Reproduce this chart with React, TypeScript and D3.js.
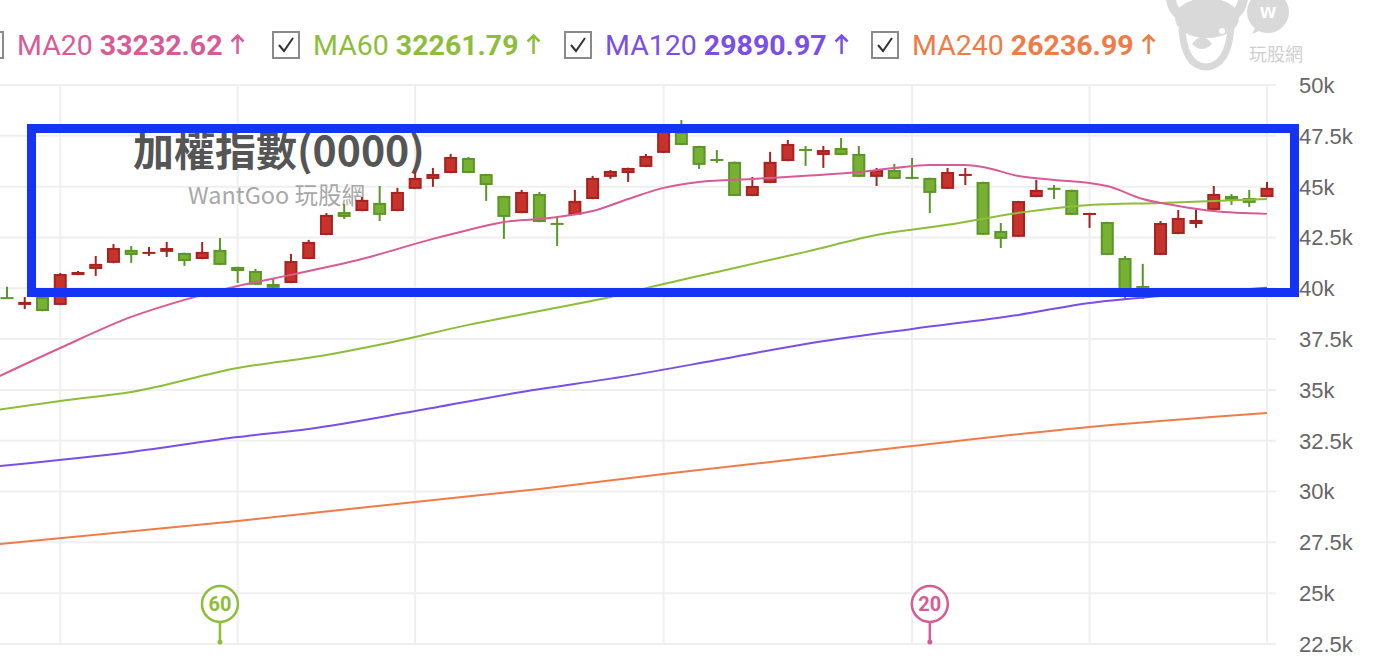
import * as d3 from 'd3';
import { useEffect, useRef } from 'react';

// daily candles, oldest first
const opens = [
  39540, 39180, 39570, 39180, 40650, 40950, 41250, 41890, 41690, 41790, 41740, 41440,
  41890, 41050, 40850, 40210, 40260, 41440, 42620, 43750, 43800, 44200, 43800, 44890,
  45380, 45670, 46410, 45620, 44540, 43700, 44640, 43210, 43610, 44390, 45480, 45670,
  45970, 46660, 47690, 47000, 46360, 46220, 44540, 45180, 46260, 46850, 46560, 46900,
  46610, 45480, 45820, 45480, 45430, 44890, 45530, 45230, 42820, 42530, 44490, 44940,
  44840, 43610, 43260, 41490, 40110, 41640, 42670, 43160, 43850, 44540, 44440, 44490,
];
const highs = [
  40070, 39570, 39620, 40750, 40850, 41590, 42180, 42080, 42030, 42280, 41750, 42280,
  42470, 41060, 40950, 40460, 41690, 42380, 43700, 44150, 44490, 45030, 44940, 45770,
  45920, 46610, 46460, 45630, 44550, 44840, 44740, 43460, 44840, 45530, 45820, 45930,
  46610, 47840, 48280, 47010, 46800, 46230, 45480, 46710, 47300, 47000, 47000, 47390,
  47000, 45920, 46120, 46410, 45440, 45920, 45920, 45240, 43210, 44300, 45330, 45080,
  44850, 43710, 43270, 41590, 41200, 43310, 43850, 43950, 45030, 44640, 44840, 45230,
];
const lows = [
  39470, 38980, 38870, 39170, 40640, 40610, 41230, 41250, 41590, 41540, 41100, 41430,
  41140, 40260, 40160, 39970, 40250, 41430, 42610, 43410, 43790, 43310, 43790, 44880,
  44990, 45660, 45660, 44300, 42430, 43690, 43250, 42080, 43600, 44380, 45380, 45230,
  45960, 46650, 47040, 45870, 46170, 44540, 44530, 45170, 46250, 46020, 45920, 46550,
  45470, 45030, 45370, 45370, 43700, 44880, 45080, 42620, 41980, 42520, 44480, 44390,
  43600, 42970, 41630, 39470, 39470, 41630, 42660, 42970, 43840, 44100, 44000, 44480,
];
const closes = [
  39490, 39330, 38880, 40700, 40800, 41200, 41980, 41640, 41790, 41980, 41340, 41790,
  41150, 40850, 40170, 40020, 41340, 42280, 43610, 43510, 44350, 43610, 44740, 45430,
  45620, 46460, 45670, 45080, 43510, 44740, 43260, 43120, 44300, 45430, 45770, 45920,
  46510, 47740, 47050, 46070, 46260, 44540, 45030, 46220, 47100, 46760, 46800, 46560,
  45480, 45820, 45380, 45380, 44690, 45720, 45620, 42630, 42430, 44290, 44840, 44840,
  43610, 43700, 41640, 39820, 40020, 43210, 43460, 43360, 44640, 44350, 44200, 44940,
];

// moving averages: [candle index, value]
const ma20: [number, number][] = [
  [-1, 35440], [3, 37060], [7, 38590], [10, 39430], [13, 40110], [16, 40660], [20, 41440],
  [24, 42430], [26, 42870], [28, 43260], [30, 43410], [31, 43510], [33, 43800], [35, 44390],
  [37, 44940], [39, 45230], [42, 45380], [45, 45530], [48, 45720], [50, 45920], [52, 46070],
  [54, 46070], [55, 45970], [57, 45520], [59, 45330], [61, 45180], [62, 45030], [64, 44390],
  [66, 44050], [68, 43800], [71, 43660],
];
const ma60: [number, number][] = [
  [-1, 33960], [3, 34460], [7, 34900], [13, 36080], [18, 36720], [22, 37410], [26, 38200],
  [30, 38880], [34, 39570], [37, 40210], [41, 41000], [45, 41790], [49, 42620], [53, 43120],
  [57, 43710], [61, 44100], [65, 44200], [71, 44390],
];
const ma120: [number, number][] = [
  [-1, 31210], [7, 31950], [13, 32680], [17, 33080], [23, 33960], [29, 34900], [35, 35690],
  [40, 36470], [45, 37260], [51, 38000], [57, 38690], [61, 39280], [65, 39620], [71, 40020],
];
const ma240: [number, number][] = [
  [-1, 27370], [13, 28550], [23, 29490], [30, 30130], [37, 30860], [44, 31550], [51, 32240],
  [61, 33180], [71, 33870],
];

const maNames = ['MA20', 'MA60', 'MA120', 'MA240'];
const maLegendValues = ['33232.62', '32261.79', '29890.97', '26236.99'];
const maColors = ['#d85b95', '#8dbd3a', '#7b4ee6', '#ef7c48'];

const yTicks = [22500, 25000, 27500, 30000, 32500, 35000, 37500, 40000, 42500, 45000, 47500, 50000];
const monthStarts = [3, 13, 23, 37, 51, 61, 71];
const crossMarks = [
  { idx: 12, label: '60', color: '#8dbd3a' },
  { idx: 52, label: '20', color: '#d85b95' },
];

const width = 1398;
const height = 660;

const App = (): React.ReactElement => {
  const ref: any = useRef();

  useEffect(() => {
    const svg = d3.select(ref.current).attr('width', width).attr('height', height);
    svg.selectAll('*').remove();

    const xScale = d3.scaleLinear().domain([0, opens.length - 1]).range([7, 1267]);
    const yScale = d3.scaleLinear().domain([22500, 50000]).range([644, 85]);

    // grid
    const grid = svg.append('g');
    grid
      .selectAll('line.h')
      .data(yTicks)
      .enter()
      .append('line')
      .attr('x1', 0)
      .attr('x2', 1276)
      .attr('y1', (d) => yScale(d))
      .attr('y2', (d) => yScale(d))
      .attr('stroke', '#efefef')
      .attr('stroke-width', 2);
    grid
      .selectAll('line.v')
      .data(monthStarts)
      .enter()
      .append('line')
      .attr('x1', (d) => xScale(d))
      .attr('x2', (d) => xScale(d))
      .attr('y1', yScale(50000))
      .attr('y2', yScale(22500))
      .attr('stroke', '#efefef')
      .attr('stroke-width', 2);

    // y axis labels
    svg
      .append('g')
      .selectAll('text')
      .data(yTicks)
      .enter()
      .append('text')
      .attr('x', 1299)
      .attr('y', (d) => yScale(d))
      .attr('dy', '0.36em')
      .attr('font-family', 'Liberation Sans, Arial, sans-serif')
      .attr('font-size', 22)
      .attr('fill', '#666')
      .text((d) => d / 1000 + 'k');

    // watermark title
    svg
      .append('text')
      .attr('x', 133)
      .attr('y', 166)
      .attr('font-family', 'Noto Sans CJK TC, sans-serif')
      .attr('font-weight', 'bold')
      .attr('font-size', 41)
      .attr('fill', '#555')
      .text('加權指數(0000)');
    svg
      .append('text')
      .attr('x', 188)
      .attr('y', 204)
      .attr('font-family', 'Noto Sans CJK TC, sans-serif')
      .attr('font-size', 23.5)
      .attr('fill', '#a8a8a8')
      .text('WantGoo 玩股網');

    // candles
    const idx = d3.range(opens.length);
    const up = (i: number) => closes[i] >= opens[i];
    const fill = (i: number) => (up(i) ? '#c8322c' : '#78b032');
    const edge = (i: number) => (up(i) ? '#a62420' : '#5b962a');
    const candles = svg.append('g');
    candles
      .selectAll('line')
      .data(idx)
      .enter()
      .append('line')
      .attr('x1', (i) => xScale(i))
      .attr('x2', (i) => xScale(i))
      .attr('y1', (i) => yScale(highs[i]))
      .attr('y2', (i) => yScale(lows[i]))
      .attr('stroke', edge)
      .attr('stroke-width', 2);
    candles
      .selectAll('rect')
      .data(idx)
      .enter()
      .append('rect')
      .each(function (i) {
        const top = yScale(Math.max(opens[i], closes[i]));
        const bot = yScale(Math.min(opens[i], closes[i]));
        const r = d3.select(this);
        if (bot - top < 3) {
          r.attr('x', xScale(i) - 6.5)
            .attr('width', 13)
            .attr('y', (top + bot) / 2 - 1)
            .attr('height', 2)
            .attr('fill', edge(i));
        } else {
          r.attr('x', xScale(i) - 5.5)
            .attr('width', 11)
            .attr('y', top + 1)
            .attr('height', bot - top - 2)
            .attr('fill', fill(i))
            .attr('stroke', edge(i))
            .attr('stroke-width', 2);
        }
      });

    // moving averages
    const line = d3
      .line<[number, number]>()
      .x((d) => xScale(d[0]))
      .y((d) => yScale(d[1]))
      .curve(d3.curveMonotoneX);
    [ma240, ma120, ma60, ma20].forEach((s, k) => {
      svg
        .append('path')
        .attr('d', line(s))
        .attr('fill', 'none')
        .attr('stroke', maColors[3 - k])
        .attr('stroke-width', 2);
    });

    // cross markers at bottom
    const marks = svg.append('g').selectAll('g').data(crossMarks).enter().append('g');
    marks
      .append('line')
      .attr('x1', (d) => xScale(d.idx))
      .attr('x2', (d) => xScale(d.idx))
      .attr('y1', 621)
      .attr('y2', 642)
      .attr('stroke', (d) => d.color)
      .attr('stroke-width', 2.5);
    marks
      .append('circle')
      .attr('cx', (d) => xScale(d.idx))
      .attr('cy', 642)
      .attr('r', 2.5)
      .attr('fill', (d) => d.color);
    marks
      .append('ellipse')
      .attr('cx', (d) => xScale(d.idx))
      .attr('cy', 604)
      .attr('rx', 18)
      .attr('ry', 18)
      .attr('fill', '#fff')
      .attr('stroke', (d) => d.color)
      .attr('stroke-width', 2.5);
    marks
      .append('text')
      .attr('x', (d) => xScale(d.idx))
      .attr('y', 604)
      .attr('dy', '0.36em')
      .attr('text-anchor', 'middle')
      .attr('font-family', 'Roboto, sans-serif')
      .attr('font-weight', 'bold')
      .attr('font-size', 20)
      .attr('fill', (d) => d.color)
      .text((d) => d.label);

    // highlight box
    svg
      .append('rect')
      .attr('x', 31.5)
      .attr('y', 128.5)
      .attr('width', 1263)
      .attr('height', 164)
      .attr('fill', 'none')
      .attr('stroke', '#1533f5')
      .attr('stroke-width', 9);

    // legend
    const boxX = [-23, 273, 565, 872];
    const legend = svg.append('g');
    maNames.forEach((name, k) => {
      const bx = boxX[k];
      legend
        .append('rect')
        .attr('x', bx)
        .attr('y', 32)
        .attr('width', 26)
        .attr('height', 26)
        .attr('fill', '#fff')
        .attr('stroke', '#8a8a8a')
        .attr('stroke-width', 2);
      legend
        .append('path')
        .attr('d', `M${bx + 6},${45} L${bx + 11},${51} L${bx + 20},${38}`)
        .attr('fill', 'none')
        .attr('stroke', '#333')
        .attr('stroke-width', 2);
      const t = legend
        .append('text')
        .attr('x', bx + 40)
        .attr('y', 55)
        .attr('font-family', 'Roboto, sans-serif')
        .attr('font-size', 28.5)
        .attr('fill', maColors[k]);
      t.append('tspan').text(name + ' ');
      t.append('tspan').attr('font-weight', 'bold').text(maLegendValues[k]);
      const len = (t.node() as SVGTextElement).getComputedTextLength();
      const ax = bx + 40 + len + 15;
      legend
        .append('path')
        .attr('d', `M${ax},${54} L${ax},${35} M${ax - 6},${41.5} L${ax},${35.5} L${ax + 6},${41.5}`)
        .attr('fill', 'none')
        .attr('stroke', maColors[k])
        .attr('stroke-width', 2.5);
    });

    // logo watermark
    const logo = svg.append('g').attr('fill', '#d9d9d9').attr('stroke', 'none');
    logo.append('path').attr('d', 'M1166,0 Q1170,22 1190,22 L1192,14 Q1178,12 1176,0 Z');
    logo.append('path').attr('d', 'M1248,0 Q1244,22 1224,22 L1222,14 Q1236,12 1238,0 Z');
    logo.append('ellipse').attr('cx', 1207).attr('cy', 18).attr('rx', 32).attr('ry', 20);
    logo
      .append('path')
      .attr('d', 'M1182,28 Q1184,66 1206,67 Q1228,66 1231,28')
      .attr('fill', 'none')
      .attr('stroke', '#d9d9d9')
      .attr('stroke-width', 7);
    logo.append('path').attr('d', 'M1192,44 Q1202,30 1212,44 Q1202,54 1192,44 Z');
    logo.append('circle').attr('cx', 1222).attr('cy', 31).attr('r', 3).attr('fill', '#fff');
    logo.append('circle').attr('cx', 1268).attr('cy', 12).attr('r', 21);
    logo.append('path').attr('d', 'M1252,34 L1256,26 L1262,30 Z');
    logo
      .append('text')
      .attr('x', 1268)
      .attr('y', 18)
      .attr('text-anchor', 'middle')
      .attr('font-family', 'Liberation Sans, sans-serif')
      .attr('font-weight', 'bold')
      .attr('font-size', 20)
      .attr('fill', '#fff')
      .text('w');
    logo
      .append('text')
      .attr('x', 1249)
      .attr('y', 61)
      .attr('font-family', 'Noto Sans CJK TC, sans-serif')
      .attr('font-size', 18)
      .attr('fill', '#cfcfcf')
      .text('玩股網');
  }, []);

  return <svg ref={ref} style={{ position: 'absolute', left: 0, top: 0, display: 'block' }} />;
};

// eslint-disable-next-line import/no-default-export
export default App;
